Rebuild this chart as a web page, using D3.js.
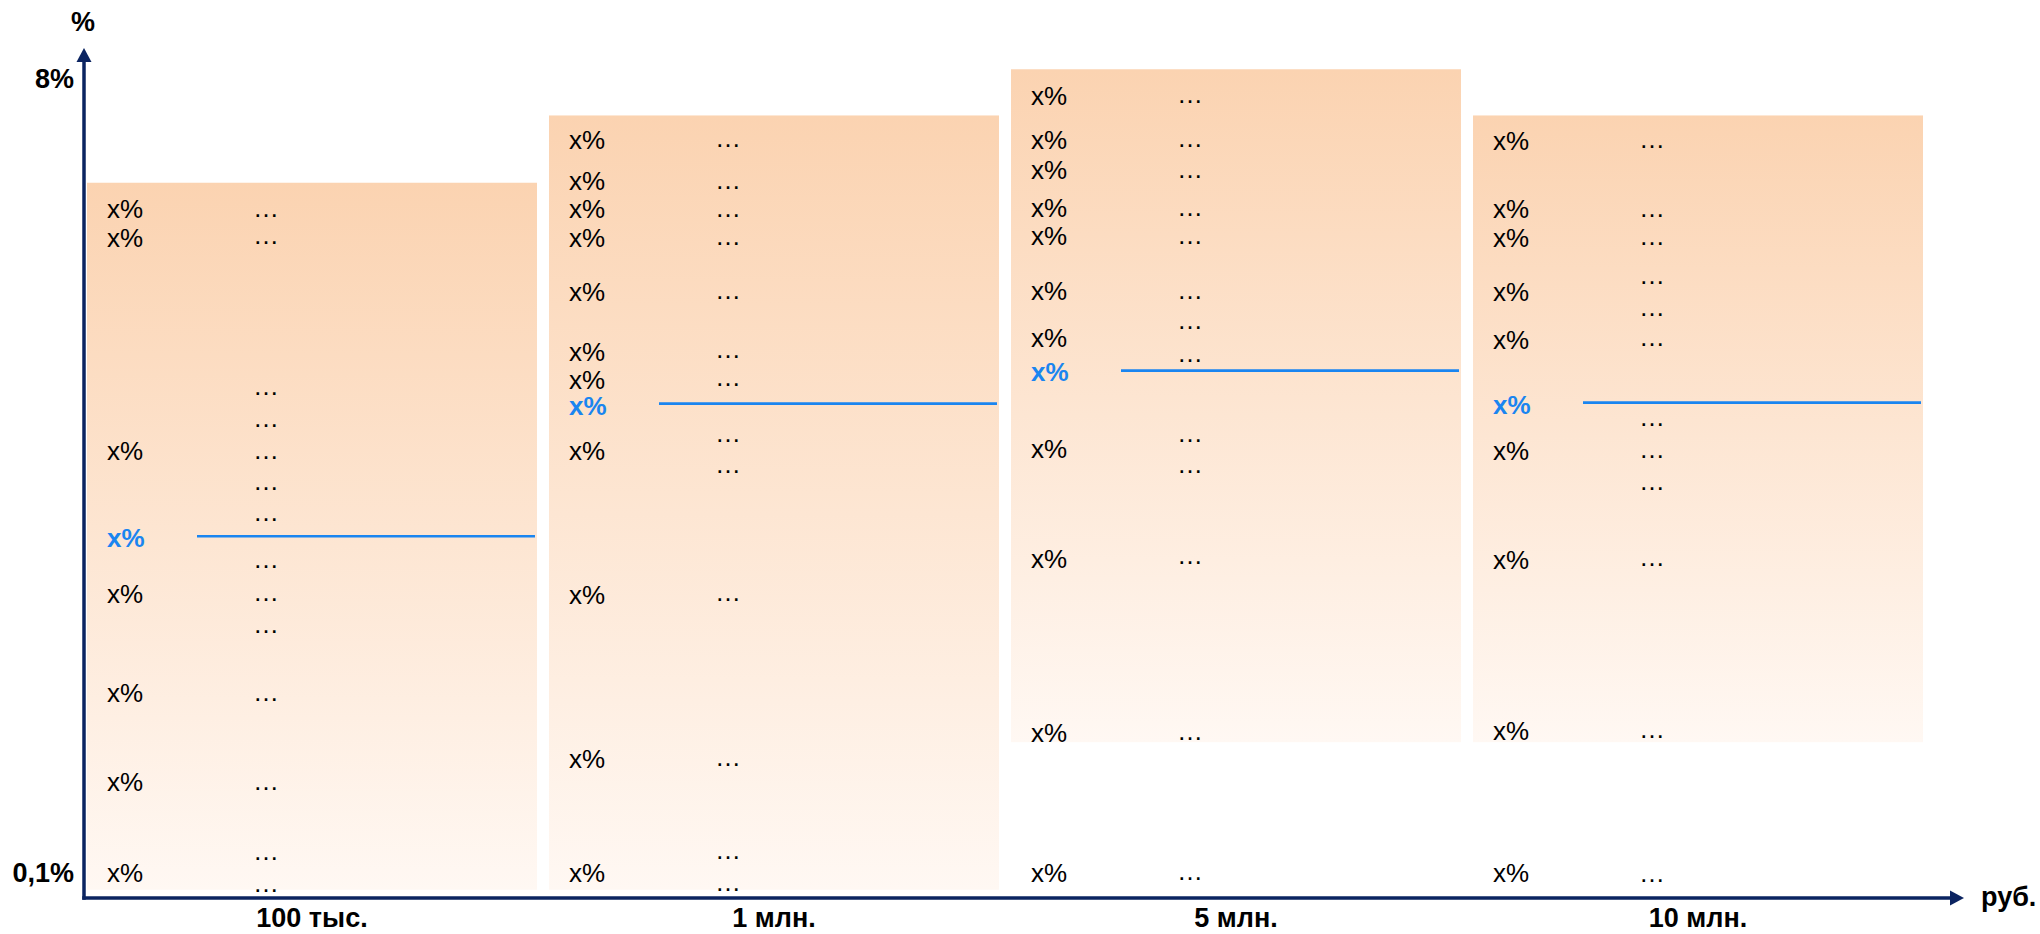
<!DOCTYPE html>
<html>
<head>
<meta charset="utf-8">
<script src="https://cdn.jsdelivr.net/npm/d3@7"></script>
<style>
  html, body { margin: 0; padding: 0; background: #ffffff; }
  svg { display: block; }
</style>
</head>
<body>
<svg id="chart" width="2040" height="934"></svg>
<script>
// ---------------- DATA ----------------
const categories = ["100 тыс.", "1 млн.", "5 млн.", "10 млн."];
const barLow  = [-0.07, -0.07, 1.40, 1.40];
const barHigh = [6.97, 7.64, 8.10, 7.64];
const keyRate = [3.45, 4.77, 5.10, 4.78];

const rateRows = [
  [6.71, 6.42, 4.30, 2.88, 1.89, 1.00, 0.10],
  [7.40, 6.99, 6.71, 6.42, 5.88, 5.29, 5.01, 4.30, 2.87, 1.23, 0.10],
  [7.83, 7.40, 7.10, 6.72, 6.44, 5.89, 5.43, 4.32, 3.22, 1.49, 0.10],
  [7.39, 6.71, 6.42, 5.88, 5.41, 4.30, 3.21, 1.51, 0.10]
];
const dotRows = [
  [6.72, 6.45, 4.95, 4.63, 4.31, 4.00, 3.69, 3.22, 2.90, 2.58, 1.90, 1.01, 0.32, 0.00],
  [7.42, 7.00, 6.72, 6.44, 5.90, 5.32, 5.04, 4.48, 4.17, 2.90, 1.25, 0.33, 0.01],
  [7.85, 7.42, 7.11, 6.73, 6.45, 5.90, 5.60, 5.28, 4.48, 4.17, 3.26, 1.51, 0.12],
  [7.41, 6.72, 6.44, 6.05, 5.73, 5.44, 4.64, 4.32, 4.00, 3.24, 1.53, 0.10]
];
const yTickValues = [0.1, 8];
const yTickLabels = ["0,1%", "8%"];
const rowLabel = "x%";
const dotLabel = "…";
const yTitle = "%";
const xTitle = "руб.";

// ---------------- LAYOUT ----------------
const FONT = "'Liberation Sans', Arial, Helvetica, sans-serif";
const axisColor = "#0b2461";
const blue = "#1a85f0";
const axisX = 84, axisY = 898;

const svg = d3.select("#chart");

const x = d3.scaleBand().domain(categories).range([87, 1923]).paddingInner(0.026).paddingOuter(0);
const y = d3.scaleLinear().domain([0.1, 8]).range([872.7, 79.3]);

// gradient
const defs = svg.append("defs");
const grad = defs.append("linearGradient")
  .attr("id", "barGrad").attr("x1", 0).attr("y1", 0).attr("x2", 0).attr("y2", 1);
grad.append("stop").attr("offset", "0%").attr("stop-color", "#fbd3b1");
grad.append("stop").attr("offset", "100%").attr("stop-color", "#fff8f3");

const bars = categories.map((c, i) => ({ c, lo: barLow[i], hi: barHigh[i], key: keyRate[i] }));

// bars
svg.append("g").selectAll("rect").data(bars).join("rect")
  .attr("x", d => x(d.c))
  .attr("y", d => y(d.hi))
  .attr("width", x.bandwidth())
  .attr("height", d => y(d.lo) - y(d.hi))
  .attr("fill", "url(#barGrad)");

// key-rate lines
svg.append("g").selectAll("line").data(bars).join("line")
  .attr("x1", d => x(d.c) + 110)
  .attr("x2", d => x(d.c) + x.bandwidth() - 2)
  .attr("y1", d => y(d.key))
  .attr("y2", d => y(d.key))
  .attr("stroke", blue)
  .attr("stroke-width", 2.7);

// row labels
const rateData = [];
rateRows.forEach((rows, i) => rows.forEach(v => rateData.push({ c: categories[i], v })));
svg.append("g").selectAll("text").data(rateData).join("text")
  .attr("x", d => x(d.c) + 20)
  .attr("y", d => y(d.v))
  .attr("dy", "0.35em")
  .attr("font-family", FONT)
  .attr("font-size", 26)
  .attr("fill", "#000")
  .text(rowLabel);

const dotData = [];
dotRows.forEach((rows, i) => rows.forEach(v => dotData.push({ c: categories[i], v })));
svg.append("g").selectAll("text").data(dotData).join("text")
  .attr("x", d => x(d.c) + 166)
  .attr("y", d => y(d.v))
  .attr("dy", "0.35em")
  .attr("font-family", FONT)
  .attr("font-size", 26)
  .attr("fill", "#000")
  .text(dotLabel);

// key-rate labels
svg.append("g").selectAll("text").data(bars).join("text")
  .attr("x", d => x(d.c) + 20)
  .attr("y", d => y(d.key))
  .attr("dy", "0.42em")
  .attr("font-family", FONT)
  .attr("font-size", 26)
  .attr("font-weight", "bold")
  .attr("fill", blue)
  .text(rowLabel);

// axes (tick labels)
const yAxis = d3.axisLeft(y).tickValues(yTickValues)
  .tickFormat((d, i) => yTickLabels[i]).tickSize(0).tickPadding(10);
const gy = svg.append("g").attr("transform", `translate(${axisX},0)`).call(yAxis);
gy.select(".domain").remove();
gy.selectAll("text").attr("font-family", FONT).attr("font-size", 27)
  .attr("font-weight", "bold").attr("fill", "#000");

const xAxis = d3.axisBottom(x).tickSize(0).tickPadding(10);
const gx = svg.append("g").attr("transform", `translate(0,${axisY})`).call(xAxis);
gx.select(".domain").remove();
gx.selectAll("text").attr("font-family", FONT).attr("font-size", 27)
  .attr("font-weight", "bold").attr("fill", "#000");

// axis lines with arrowheads
const axG = svg.append("g");
axG.append("line").attr("x1", axisX).attr("y1", axisY + 1.75).attr("x2", axisX).attr("y2", 60)
  .attr("stroke", axisColor).attr("stroke-width", 3.5);
axG.append("path").attr("d", `M${axisX - 7.5},62 L${axisX},48 L${axisX + 7.5},62 Z`).attr("fill", axisColor);
axG.append("line").attr("x1", axisX - 1.75).attr("y1", axisY).attr("x2", 1952).attr("y2", axisY)
  .attr("stroke", axisColor).attr("stroke-width", 3.5);
axG.append("path").attr("d", `M1950,${axisY - 7.5} L1964,${axisY} L1950,${axisY + 7.5} Z`).attr("fill", axisColor);

// axis titles
svg.append("text").attr("x", 83).attr("y", 31).attr("text-anchor", "middle")
  .attr("font-family", FONT).attr("font-size", 27).attr("font-weight", "bold").text(yTitle);
svg.append("text").attr("x", 1981).attr("y", 906).attr("text-anchor", "start")
  .attr("font-family", FONT).attr("font-size", 27).attr("font-weight", "bold").text(xTitle);
</script>
</body>
</html>
